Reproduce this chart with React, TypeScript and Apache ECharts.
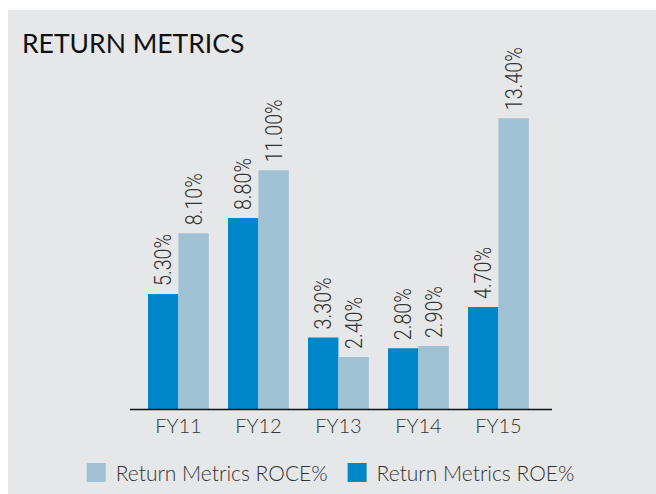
import React, { useEffect, useRef } from "react";
import * as echarts from "echarts";

const categories = ["FY11", "FY12", "FY13", "FY14", "FY15"];
const roeValues = [5.3, 8.8, 3.3, 2.8, 4.7];
const roceValues = [8.1, 11.0, 2.4, 2.9, 13.4];
const roeName = "Return Metrics ROE%";
const roceName = "Return Metrics ROCE%";

const BAR_CAT_GAP = 0.24;

function labelRenderer(side: number) {
  return (params: any, api: any) => {
    const idx = api.value(0);
    const v = api.value(1);
    const pt = api.coord([idx, v]);
    const band = api.size([1, 0])[0];
    const off = (side * band * (1 - BAR_CAT_GAP)) / 4;
    return {
      type: "text",
      x: pt[0] + off,
      y: pt[1] - 8,
      rotation: Math.PI / 2,
      scaleX: 0.82,
      silent: true,
      style: {
        text: v.toFixed(2) + "%",
        fontFamily: "Roboto",
        fontSize: 24,
        fontWeight: 300,
        fill: "#333",
        align: "left",
        verticalAlign: "middle",
      },
    };
  };
}

export default function App() {
  const ref = useRef<HTMLDivElement>(null);
  useEffect(() => {
    if (!ref.current) return;
    const chart = echarts.init(ref.current, null, { renderer: "svg" });
    chart.setOption({
      animation: false,
      backgroundColor: "#e6e7e8",
      title: {
        text: "RETURN METRICS",
        left: 14,
        top: 19,
        padding: 0,
        textStyle: { fontFamily: "Lato", fontSize: 26.5, fontWeight: "normal", color: "#111" },
      },
      legend: {
        data: [roceName, roeName],
        left: 78.7,
        top: 452,
        padding: 0,
        itemWidth: 19,
        itemHeight: 19,
        itemGap: 20,
        icon: "rect",
        textStyle: {
          fontFamily: "Lato",
          fontSize: 21,
          fontWeight: 300,
          color: "#333",
          padding: [0, 0, 0, 5],
        },
      },
      grid: { left: 130.4, width: 400, top: 73.5, bottom: 85, containLabel: false },
      xAxis: {
        type: "category",
        data: categories,
        axisLine: { show: false },
        axisTick: { show: false },
        axisLabel: { margin: 6, fontFamily: "Lato", fontSize: 20, fontWeight: 300, color: "#333" },
      },
      yAxis: { type: "value", min: 0, max: 15, show: false, splitLine: { show: false } },
      graphic: [
        {
          type: "line",
          shape: { x1: 122, y1: 399.5, x2: 544, y2: 399.5 },
          style: { stroke: "#111", lineWidth: 1.3 },
          z: 10,
        },
      ],
      series: [
        {
          name: roeName,
          type: "bar",
          data: roeValues,
          barGap: "0%",
          barCategoryGap: BAR_CAT_GAP * 100 + "%",
          itemStyle: { color: "#0087c9" },
        },
        {
          name: roceName,
          type: "bar",
          data: roceValues,
          barGap: "0%",
          barCategoryGap: BAR_CAT_GAP * 100 + "%",
          itemStyle: { color: "#a0c0d4" },
        },
        {
          name: "roeLabels",
          type: "custom",
          data: roeValues.map((v, i) => [i, v]),
          encode: { x: 0, y: 1 },
          renderItem: labelRenderer(-1),
          silent: true,
          z: 5,
        },
        {
          name: "roceLabels",
          type: "custom",
          data: roceValues.map((v, i) => [i, v]),
          encode: { x: 0, y: 1 },
          renderItem: labelRenderer(1),
          silent: true,
          z: 5,
        },
      ],
    });
    return () => chart.dispose();
  }, []);
  return (
    <div
      ref={ref}
      style={{ position: "absolute", left: 8, top: 10, width: 648, height: 484 }}
    />
  );
}
